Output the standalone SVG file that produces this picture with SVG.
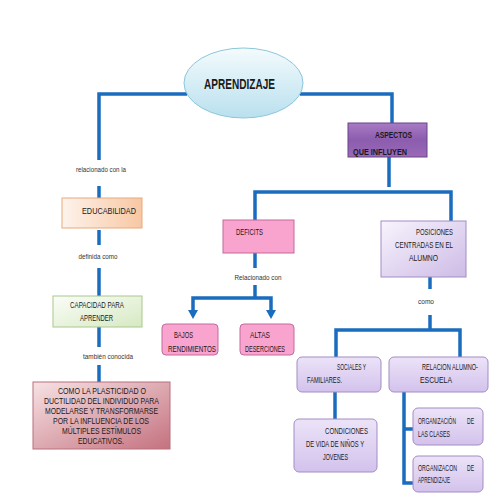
<svg xmlns="http://www.w3.org/2000/svg" width="495" height="495" viewBox="0 0 495 495">
<defs>
<linearGradient id="gEll" x1="0" y1="0" x2="0" y2="1"><stop offset="0" stop-color="#f4fbfd"/><stop offset="1" stop-color="#b9e0ee"/></linearGradient>
<linearGradient id="gAsp" x1="0" y1="0" x2="0" y2="1"><stop offset="0" stop-color="#a77bc4"/><stop offset="0.5" stop-color="#8c5cae"/><stop offset="1" stop-color="#9a6ab8"/></linearGradient>
<linearGradient id="gLav" x1="0" y1="0" x2="1" y2="1"><stop offset="0" stop-color="#f8f4fd"/><stop offset="1" stop-color="#cdbbe6"/></linearGradient>
<linearGradient id="gLav2" x1="0" y1="0" x2="0" y2="1"><stop offset="0" stop-color="#ece3f8"/><stop offset="1" stop-color="#d3c2ec"/></linearGradient>
<linearGradient id="gEdu" x1="0" y1="0" x2="1" y2="0"><stop offset="0" stop-color="#fdf3ec"/><stop offset="1" stop-color="#f8c7a3"/></linearGradient>
<linearGradient id="gCap" x1="0" y1="0" x2="1" y2="1"><stop offset="0" stop-color="#fbfdf8"/><stop offset="1" stop-color="#d6e9c2"/></linearGradient>
<linearGradient id="gCom" x1="0" y1="0" x2="1" y2="1"><stop offset="0" stop-color="#f7e2e4"/><stop offset="1" stop-color="#c4727f"/></linearGradient>
<marker id="arr" markerWidth="10" markerHeight="10" refX="1" refY="5" orient="auto-start-reverse" markerUnits="userSpaceOnUse"><path d="M0,0 L9,5 L0,10 Z" fill="#1a6cbf"/></marker>
<clipPath id="cAsp"><rect x="348" y="123" width="79" height="34"/></clipPath>
</defs>
<style>
.c{fill:none;stroke:#1a6cbf;stroke-width:3.5}
.t{font-family:"Liberation Sans",Arial,sans-serif;font-size:9px;fill:#1a1a1a}
.l{font-family:"Liberation Sans",Arial,sans-serif;font-size:7px;fill:#333;text-anchor:middle}
.b{font-weight:bold}
.pk{fill:#f9a3cf;stroke:#c36a9b;stroke-width:1}
.lv{fill:url(#gLav2);stroke:#a28dc4;stroke-width:1}
</style>
<rect width="495" height="495" fill="#ffffff"/>
<g id="connectors">
<path class="c" d="M187,94 H99 V160"/>
<path class="c" d="M99,186 V198"/>
<path class="c" d="M99,230 V245"/>
<path class="c" d="M99,268 V296"/>
<path class="c" d="M99,327 V347"/>
<path class="c" d="M99,365 V382"/>
<path class="c" d="M300,94 H392 V123"/>
<path class="c" d="M389,157 V187"/>
<path class="c" d="M255,220 V192 H451 V221"/>
<path class="c" d="M255,253 V268"/>
<path class="c" d="M255,285 V298"/>
<path class="c" d="M193,311 V298 H271 V311" marker-start="url(#arr)" marker-end="url(#arr)"/>
<path class="c" d="M430,277 V289"/>
<path class="c" d="M430,315 V330"/>
<path class="c" d="M336,357 V330 H460 V357"/>
<path class="c" d="M335,392 V419"/>
<path class="c" d="M404,392 V483 H413"/>
<path class="c" d="M404,429 H413"/>
<text class="l" x="101" y="172" textLength="50" lengthAdjust="spacingAndGlyphs">relacionado con la</text>
<text class="l" x="98" y="259" textLength="39" lengthAdjust="spacingAndGlyphs">definida como</text>
<text class="l" x="108" y="359" textLength="50" lengthAdjust="spacingAndGlyphs">también conocida</text>
<text class="l" x="258" y="280" textLength="47" lengthAdjust="spacingAndGlyphs">Relacionado con</text>
<text class="l" x="426" y="304" textLength="16" lengthAdjust="spacingAndGlyphs">como</text>
</g>
<g id="aprendizaje">
<ellipse cx="243.5" cy="83" rx="59.5" ry="35" fill="url(#gEll)" stroke="#8cc6da" stroke-width="1"/>
<text class="t b" x="204" y="89" style="font-size:14px" textLength="71" lengthAdjust="spacingAndGlyphs">APRENDIZAJE</text>
</g>
<g id="aspectos">
<rect x="348" y="123" width="79" height="34" fill="url(#gAsp)" stroke="#6b4289" stroke-width="1"/>
<text class="t b" x="375" y="138" textLength="37" lengthAdjust="spacingAndGlyphs">ASPECTOS</text>
<text class="t b" x="353" y="155" clip-path="url(#cAsp)" textLength="54" lengthAdjust="spacingAndGlyphs">QUE INFLUYEN</text>
</g>
<g id="educabilidad">
<rect x="62" y="198" width="80" height="30" fill="url(#gEdu)" stroke="#e8a97c" stroke-width="1"/>
<text class="t" x="82" y="214" textLength="54" lengthAdjust="spacingAndGlyphs">EDUCABILIDAD</text>
</g>
<g id="capacidad">
<rect x="53" y="296" width="89" height="31" fill="url(#gCap)" stroke="#a9c88e" stroke-width="1"/>
<text class="t" x="70" y="308" textLength="54" lengthAdjust="spacingAndGlyphs">CAPACIDAD PARA</text>
<text class="t" x="80" y="321" textLength="33" lengthAdjust="spacingAndGlyphs">APRENDER</text>
</g>
<g id="como-la-plasticidad">
<rect x="33" y="382" width="137" height="67" fill="url(#gCom)" stroke="#b8707c" stroke-width="1"/>
<g class="t" text-anchor="middle" style="font-size:9.5px">
<text x="102" y="394" textLength="88" lengthAdjust="spacingAndGlyphs">COMO LA PLASTICIDAD O</text>
<text x="101.5" y="404" textLength="115" lengthAdjust="spacingAndGlyphs">DUCTILIDAD DEL INDIVIDUO PARA</text>
<text x="101.5" y="414" textLength="113" lengthAdjust="spacingAndGlyphs">MODELARSE Y TRANSFORMARSE</text>
<text x="101" y="424" textLength="96" lengthAdjust="spacingAndGlyphs">POR LA INFLUENCIA DE LOS</text>
<text x="101.5" y="434" textLength="79" lengthAdjust="spacingAndGlyphs">MÚLTIPLES ESTÍMULOS</text>
<text x="101" y="444" textLength="46" lengthAdjust="spacingAndGlyphs">EDUCATIVOS.</text>
</g>
</g>
<g id="deficits">
<rect x="223" y="220" width="71" height="33" class="pk"/>
<text class="t" x="236" y="235" textLength="27" lengthAdjust="spacingAndGlyphs">DEFICITS</text>
</g>
<g id="bajos-rendimientos">
<rect x="162" y="324" width="56" height="31" rx="4" class="pk"/>
<text class="t" x="174" y="338" textLength="19" lengthAdjust="spacingAndGlyphs">BAJOS</text>
<text class="t" x="168" y="352" textLength="48" lengthAdjust="spacingAndGlyphs">RENDIMIENTOS</text>
</g>
<g id="altas-deserciones">
<rect x="240" y="324" width="54" height="31" rx="4" class="pk"/>
<text class="t" x="250" y="338" textLength="20" lengthAdjust="spacingAndGlyphs">ALTAS</text>
<text class="t" x="245" y="352" textLength="40" lengthAdjust="spacingAndGlyphs">DESERCIONES</text>
</g>
<g id="posiciones">
<rect x="381" y="221" width="85" height="56" fill="url(#gLav)" stroke="#a28dc4" stroke-width="1"/>
<text class="t" x="416" y="235" textLength="37" lengthAdjust="spacingAndGlyphs">POSICIONES</text>
<text class="t" x="395" y="248" textLength="58" lengthAdjust="spacingAndGlyphs">CENTRADAS EN EL</text>
<text class="t" x="409" y="261" textLength="29" lengthAdjust="spacingAndGlyphs">ALUMNO</text>
</g>
<g id="sociales">
<rect x="297" y="357" width="84" height="35" rx="5" class="lv"/>
<text class="t" x="337" y="370" textLength="29" lengthAdjust="spacingAndGlyphs">SOCIALES Y</text>
<text class="t" x="307" y="383" textLength="35" lengthAdjust="spacingAndGlyphs">FAMILIARES.</text>
</g>
<g id="relacion">
<rect x="389" y="357" width="99" height="35" rx="5" class="lv"/>
<text class="t" x="422" y="370" textLength="56" lengthAdjust="spacingAndGlyphs">RELACION ALUMNO-</text>
<text class="t" x="420" y="383" textLength="32" lengthAdjust="spacingAndGlyphs">ESCUELA</text>
</g>
<g id="condiciones">
<rect x="294" y="419" width="83" height="53" rx="5" class="lv"/>
<text class="t" x="325" y="434" textLength="43" lengthAdjust="spacingAndGlyphs">CONDICIONES</text>
<text class="t" x="306" y="447" textLength="58" lengthAdjust="spacingAndGlyphs">DE VIDA DE NIÑOS Y</text>
<text class="t" x="323" y="460" textLength="25" lengthAdjust="spacingAndGlyphs">JOVENES</text>
</g>
<g id="organizacion-clases">
<rect x="413" y="408" width="70" height="37" rx="5" class="lv"/>
<text class="t" x="418" y="424" textLength="38" lengthAdjust="spacingAndGlyphs">ORGANIZACIÓN</text>
<text class="t" x="467" y="424" textLength="7" lengthAdjust="spacingAndGlyphs">DE</text>
<text class="t" x="418" y="437" textLength="32" lengthAdjust="spacingAndGlyphs">LAS CLASES</text>
</g>
<g id="organizacion-aprendizaje">
<rect x="413" y="456" width="70" height="36" rx="5" class="lv"/>
<text class="t" x="418" y="471" textLength="39" lengthAdjust="spacingAndGlyphs">ORGANIZACON</text>
<text class="t" x="467" y="471" textLength="7" lengthAdjust="spacingAndGlyphs">DE</text>
<text class="t" x="418" y="483" textLength="32" lengthAdjust="spacingAndGlyphs">APRENDIZAJE</text>
</g>
</svg>
